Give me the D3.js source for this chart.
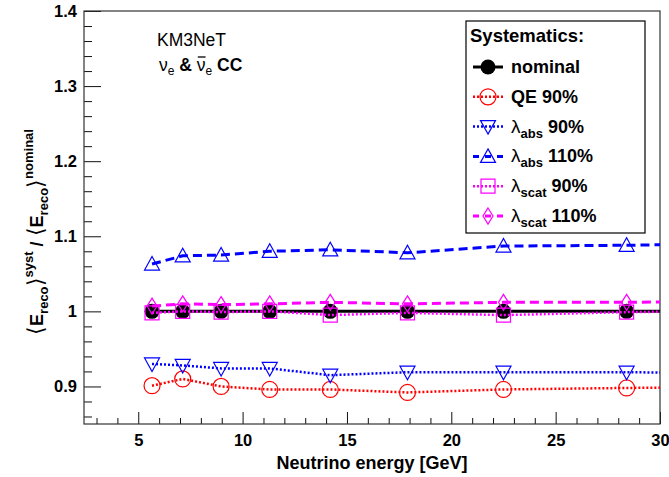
<!DOCTYPE html>
<html>
<head>
<meta charset="utf-8">
<script src="https://cdn.jsdelivr.net/npm/d3@7"></script>
<style>
  body { margin: 0; background: #fff; }
  svg { display: block; font-family: "Liberation Sans", Arial, Helvetica, sans-serif; }
</style>
</head>
<body>
<svg width="669" height="477"></svg>
<script>
// data (last point lies past 30 GeV and is clipped)
var energies = [5.66, 7.13, 8.97, 11.3, 14.2, 17.9, 22.5, 28.4, 35.5];
var nominal  = [1.000, 1.000, 1.000, 1.000, 1.000, 1.000, 1.000, 1.000, 1.000];
var qe90     = [0.901, 0.910, 0.900, 0.896, 0.896, 0.892, 0.896, 0.898, 0.900];
var abs90    = [0.930, 0.928, 0.924, 0.924, 0.915, 0.919, 0.919, 0.919, 0.917];
var abs110   = [1.063, 1.074, 1.075, 1.080, 1.082, 1.078, 1.087, 1.088, 1.091];
var scat90   = [0.998, 1.000, 0.999, 1.000, 0.995, 0.998, 0.995, 0.999, 1.001];
var scat110  = [1.007, 1.010, 1.009, 1.010, 1.012, 1.010, 1.012, 1.012, 1.014];

var xMajor = [5, 10, 15, 20, 25, 30];
var yMajor = [0.9, 1.0, 1.1, 1.2, 1.3, 1.4];

// one entry per graph, in legend order
var series = [
    { label: "nominal", sub: null,   rest: "",     values: nominal, color: "#000000", dash: null,  width: 3,   marker: "dot" },
    { label: "QE 90%",  sub: null,   rest: "",     values: qe90,    color: "#ff0000", dash: "2,2", width: 2.5, marker: "circle" },
    { label: "\u03bb",  sub: "abs",  rest: " 90%",  values: abs90,  color: "#0000ff", dash: "2,2", width: 2.5, marker: "down" },
    { label: "\u03bb",  sub: "abs",  rest: " 110%", values: abs110, color: "#0000ff", dash: "9,5", width: 3,   marker: "up" },
    { label: "\u03bb",  sub: "scat", rest: " 90%",  values: scat90, color: "#ff00ff", dash: "2,2", width: 2.5, marker: "square" },
    { label: "\u03bb",  sub: "scat", rest: " 110%", values: scat110, color: "#ff00ff", dash: "9,5", width: 3,  marker: "diamond" }
];

var svg = d3.select("svg");

var plot = { left: 84, right: 660, top: 11, bottom: 424 };

var x = d3.scaleLinear().domain([2.4, 30]).range([plot.left, plot.right]);
var y = d3.scaleLinear().domain([0.85, 1.4]).range([plot.bottom, plot.top]);

svg.append("defs").append("clipPath").attr("id", "clip")
    .append("rect")
    .attr("x", plot.left).attr("y", plot.top)
    .attr("width", plot.right - plot.left).attr("height", plot.bottom - plot.top);

// marker paths centred on 0,0
function markerPath(type) {
    if (type === "up") return "M0,-7.5L7.5,6L-7.5,6Z";
    if (type === "down") return "M0,7.5L7.5,-6L-7.5,-6Z";
    if (type === "square") return "M-7,-7H7V7H-7Z";
    if (type === "diamond") return "M0,-8L5,0L0,8L-5,0Z";
    return null;
}

function drawMarker(g, type, color) {
    if (type === "dot") {
        g.append("circle").attr("r", 7.5).attr("fill", "#000");
    } else if (type === "circle") {
        g.append("circle").attr("r", 8).attr("fill", "none")
            .attr("stroke", color).attr("stroke-width", 1.2);
    } else {
        g.append("path").attr("d", markerPath(type)).attr("fill", "none")
            .attr("stroke", color).attr("stroke-width", 1.2);
    }
}

// axes
var yMinor = d3.range(0.86, 1.401, 0.02).filter(function (v) {
    return !yMajor.some(function (m) { return Math.abs(m - v) < 1e-6; });
});
var xMinor = d3.range(3, 30, 1).filter(function (v) { return v % 5 !== 0; });

svg.append("g")
    .attr("transform", "translate(" + plot.left + ",0)")
    .call(d3.axisLeft(y).tickValues(yMinor).tickSize(-8).tickFormat(""))
    .call(function (g) { g.select(".domain").remove(); });

var yAxis = svg.append("g")
    .attr("transform", "translate(" + plot.left + ",0)")
    .call(d3.axisLeft(y).tickValues(yMajor).tickSize(-17).tickPadding(7)
        .tickFormat(d3.format("~g")));
yAxis.select(".domain").remove();

svg.append("g")
    .attr("transform", "translate(0," + plot.bottom + ")")
    .call(d3.axisBottom(x).tickValues(xMinor).tickSize(-6).tickFormat(""))
    .call(function (g) { g.select(".domain").remove(); });

var xAxis = svg.append("g")
    .attr("transform", "translate(0," + plot.bottom + ")")
    .call(d3.axisBottom(x).tickValues(xMajor).tickSize(-12).tickPadding(10));
xAxis.select(".domain").remove();

svg.selectAll(".tick line").attr("stroke", "#111");
svg.selectAll(".tick text")
    .attr("font-family", "Liberation Sans, Arial, sans-serif")
    .attr("font-size", 16.5).attr("font-weight", "bold").attr("fill", "#000");

// frame
svg.append("rect")
    .attr("x", plot.left).attr("y", plot.top)
    .attr("width", plot.right - plot.left).attr("height", plot.bottom - plot.top)
    .attr("fill", "none").attr("stroke", "#333").attr("stroke-width", 1.2);

// graphs
var line = d3.line()
    .x(function (d) { return x(d[0]); })
    .y(function (d) { return y(d[1]); });

var graphs = svg.append("g").attr("clip-path", "url(#clip)");

series.forEach(function (s) {
    var pts = energies.map(function (e, i) { return [e, s.values[i]]; });
    graphs.append("path")
        .datum(pts)
        .attr("d", line)
        .attr("fill", "none")
        .attr("stroke", s.color)
        .attr("stroke-width", s.width)
        .attr("stroke-dasharray", s.dash);
    graphs.selectAll(null)
        .data(pts)
        .enter().append("g")
        .attr("transform", function (d) { return "translate(" + x(d[0]) + "," + y(d[1]) + ")"; })
        .each(function () { drawMarker(d3.select(this), s.marker, s.color); });
});

// legend
var legend = svg.append("g");
legend.append("rect")
    .attr("x", 466).attr("y", 21).attr("width", 179).attr("height", 212)
    .attr("fill", "#fff").attr("stroke", "#000").attr("stroke-width", 1.2);
legend.append("text")
    .attr("x", 470).attr("y", 42)
    .attr("font-size", 18.5).attr("font-weight", "bold")
    .text("Systematics:");

series.forEach(function (s, i) {
    var base = 73 + i * 29.8;
    var cy = base - 6;
    // short dashes so a dash sits either side of the marker
    var dash = s.dash === "9,5" ? "6,6" : s.dash;
    legend.append("line")
        .attr("x1", 473).attr("x2", 503).attr("y1", cy).attr("y2", cy)
        .attr("stroke", s.color).attr("stroke-width", s.width)
        .attr("stroke-dasharray", dash);
    var m = legend.append("g").attr("transform", "translate(488," + cy + ")");
    drawMarker(m, s.marker, s.color);

    var t = legend.append("text").attr("x", 511).attr("y", base)
        .attr("font-size", 18).attr("font-weight", "bold");
    if (s.sub) {
        t.append("tspan").attr("font-weight", "normal").attr("font-size", 19).text(s.label);
        t.append("tspan").attr("dy", 5).attr("font-size", 13).text(s.sub);
        t.append("tspan").attr("dy", -5).text(s.rest);
    } else {
        t.text(s.label);
    }
});

// annotations
svg.append("text")
    .attr("x", 157).attr("y", 46)
    .attr("font-size", 17.5)
    .text("KM3NeT");

var nu = svg.append("text").attr("x", 159).attr("y", 71)
    .attr("font-size", 17.5).attr("font-weight", "bold");
nu.append("tspan").attr("font-weight", "normal").text("\u03bd");
nu.append("tspan").attr("font-weight", "normal").attr("font-size", 12).attr("dy", 4).text("e");
nu.append("tspan").attr("dy", -4).text(" & ");
var nubar = nu.append("tspan").attr("font-weight", "normal").text("\u03bd");
nu.append("tspan").attr("font-weight", "normal").attr("font-size", 12).attr("dy", 4).text("e");
nu.append("tspan").attr("dy", -4).text(" CC");

// bar over the anti-neutrino
var bx = nubar.node().getStartPositionOfChar(0).x;
var bw = nubar.node().getComputedTextLength();
svg.append("line")
    .attr("x1", bx + 1).attr("x2", bx + bw)
    .attr("y1", 57).attr("y2", 57)
    .attr("stroke", "#000").attr("stroke-width", 1.3);

// axis titles
svg.append("text")
    .attr("x", (plot.left + plot.right) / 2).attr("y", 469)
    .attr("text-anchor", "middle")
    .attr("font-size", 18).attr("font-weight", "bold")
    .text("Neutrino energy [GeV]");

var ylab = svg.append("text")
    .attr("transform", "translate(43,232) rotate(-90)")
    .attr("text-anchor", "middle")
    .attr("font-size", 18).attr("font-weight", "bold");
ylab.append("tspan").attr("font-weight", "normal").attr("font-size", 22).text("\u27e8");
ylab.append("tspan").text("E");
ylab.append("tspan").attr("dy", 5).attr("font-size", 13).text("reco");
ylab.append("tspan").attr("dy", -5).attr("font-weight", "normal").attr("font-size", 22).text("\u27e9");
ylab.append("tspan").attr("dy", -10).attr("font-size", 13).text("syst");
ylab.append("tspan").attr("dy", 10).text(" / ");
ylab.append("tspan").attr("font-weight", "normal").attr("font-size", 22).text("\u27e8");
ylab.append("tspan").text("E");
ylab.append("tspan").attr("dy", 5).attr("font-size", 13).text("reco");
ylab.append("tspan").attr("dy", -5).attr("font-weight", "normal").attr("font-size", 22).text("\u27e9");
ylab.append("tspan").attr("dy", -10).attr("font-size", 13).text("nominal");
</script>
</body>
</html>
